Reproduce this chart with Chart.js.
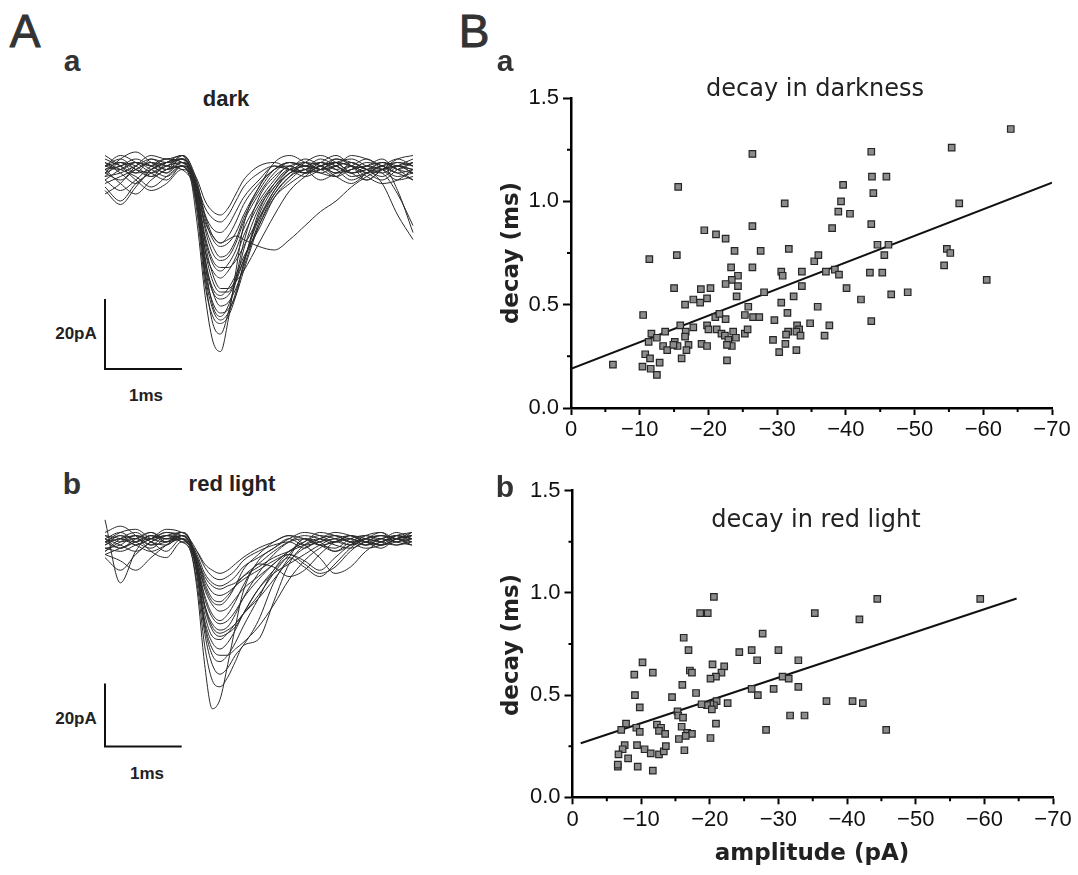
<!DOCTYPE html>
<html><head><meta charset="utf-8">
<script src="https://cdn.jsdelivr.net/npm/chart.js@4"></script>
<style>
body{margin:0;background:#fff;width:1078px;height:875px;position:relative;overflow:hidden;font-family:"Liberation Sans",Arial,sans-serif;color:#222}
canvas{position:absolute}
.t{position:absolute;white-space:nowrap;line-height:1;transform:translate(-50%,-50%)}
.big{font-size:46px;color:#333;-webkit-text-stroke:1px #333}
.sub{font-size:30px;font-weight:bold;color:#333}
.lab{font-size:22px;font-weight:bold}
.bar{font-size:17px;font-weight:bold}
.dj{font-family:"DejaVu Sans",sans-serif;font-size:24px;color:#222}
.ax{font-family:"DejaVu Sans",sans-serif;font-size:23px;font-weight:bold;color:#222}
</style></head><body>
<canvas id="aa" width="320" height="240" style="left:100px;top:140px"></canvas>
<canvas id="ab" width="320" height="250" style="left:100px;top:505px"></canvas>
<canvas id="ba" width="638" height="400" style="left:440px;top:60px"></canvas>
<canvas id="bb" width="638" height="400" style="left:440px;top:450px"></canvas>

<div class="t big" style="left:25px;top:31px">A</div>
<div class="t sub" style="left:72px;top:61px">a</div>
<div class="t lab" style="left:226px;top:99px">dark</div>
<div class="t bar" style="left:76px;top:333px">20pA</div>
<div class="t bar" style="left:146px;top:395px">1ms</div>
<div class="t sub" style="left:72px;top:484px">b</div>
<div class="t lab" style="left:232px;top:484px">red light</div>
<div class="t bar" style="left:76px;top:718px">20pA</div>
<div class="t bar" style="left:147px;top:773px">1ms</div>

<div class="t big" style="left:474px;top:31px">B</div>
<div class="t sub" style="left:505px;top:61px">a</div>
<div class="t dj" style="left:815px;top:88px">decay in darkness</div>
<div class="t ax" style="left:510px;top:253px;transform:translate(-50%,-50%) rotate(-90deg)">decay (ms)</div>
<div class="t sub" style="left:505px;top:487px">b</div>
<div class="t dj" style="left:816px;top:519px">decay in red light</div>
<div class="t ax" style="left:510px;top:645px;transform:translate(-50%,-50%) rotate(-90deg)">decay (ms)</div>
<div class="t ax" style="left:812px;top:852px">amplitude (pA)</div>

<script>
// ---- Panel A: sample times (ms) shared by all traces ----
const traceTime = [0, 0.2, 0.4, 0.6, 0.8, 1.0, 1.1, 1.2, 1.3, 1.4, 1.5, 1.6, 1.7, 1.8, 2.0, 2.2, 2.4, 2.6, 2.8, 3.0, 3.2, 3.4, 3.6, 3.8, 4.0];

// currents (pA) of the traces recorded in the dark
const darkTraces = [
  [2, 1, 3, 2, 4, 3, 0, -15, -35, -48, -51, -42, -28, -15, -4, 1, 2, 0, 3, 1, 2, 0, 1, 3, 2],
  [-1, 3, 0, 4, 2, 5, 2, -10, -30, -43, -46, -40, -30, -20, -7, -1, 2, 3, 1, 4, 2, -2, 1, 2, 0],
  [3, 0, -3, 1, 3, 4, 1, -12, -32, -41, -43, -41, -35, -26, -11, -3, 1, 0, 2, 3, 0, 2, 4, 1, 3],
  [-4, -8, -3, 0, 2, 3, 0, -8, -26, -38, -41, -38, -31, -22, -10, -4, 0, 2, 1, -1, 3, 1, 0, -6, -15],
  [1, 2, 4, 2, 0, 5, 3, -6, -24, -34, -38, -37, -33, -27, -14, -5, 0, 1, 3, 2, 0, 1, 3, 2, 1],
  [0, -2, 1, 3, 1, 2, -1, -10, -25, -33, -35, -33, -29, -24, -16, -7, -2, 1, 0, 2, 3, 1, -1, 2, 4],
  [2, 4, 1, -1, 3, 4, 2, -5, -20, -29, -33, -33, -31, -28, -20, -12, -5, -1, 2, 0, 1, 3, 2, 0, 1],
  [-2, 1, 3, 2, 0, 3, 1, -8, -22, -28, -30, -28, -24, -18, -9, -3, 1, 2, 3, 1, -2, 0, 2, 4, 2],
  [3, 1, -1, -4, -1, 2, 0, -7, -19, -26, -28, -26, -22, -16, -8, -2, 2, 0, 1, 3, 2, 1, -3, -12, -19],
  [-1, 0, 2, 4, 3, 4, 2, -4, -16, -23, -25, -24, -20, -14, -6, 0, 3, 2, 0, -1, 1, 2, 3, 1, 0],
  [1, -3, -6, -2, 1, 2, 1, -5, -14, -18, -20, -19, -18, -19, -21, -22, -19, -15, -11, -8, -4, -1, 1, 2, 0],
  [2, 3, 1, 0, 2, 4, 1, -3, -12, -18, -20, -18, -14, -9, -3, 1, 3, 2, 4, 2, 0, 1, 2, 3, 2],
  [-3, -1, 1, 3, 2, 1, -1, -5, -12, -16, -17, -15, -11, -7, -2, 2, 1, 0, 2, 3, 2, 0, -2, 1, 3],
  [0, 2, 3, 1, -1, 2, 0, -4, -10, -13, -14, -12, -8, -4, 0, 2, 1, 3, 2, 0, 1, 2, 1, -1, 0],
  [4, 2, 0, 1, 3, 5, 2, -2, -8, -11, -12, -10, -6, -2, 2, 3, 1, -1, 1, 3, 4, 2, 1, 2, 3],
  [-2, -5, -2, 2, 4, 3, 1, -9, -26, -34, -36, -35, -31, -25, -13, -5, 0, 2, 1, 2, -1, 0, 2, -5, -17],
  [1, 3, 2, -1, 1, 4, 2, -9, -28, -37, -40, -39, -35, -28, -15, -6, -1, 1, 2, 4, 3, 1, 0, 2, 1],
  [-5, -9, -4, 1, 3, 2, 0, -5, -15, -21, -24, -23, -19, -13, -5, 1, 3, 1, -2, 0, 2, 4, 1, -2, -1],
  [0, 4, 6, 3, 1, 3, 2, -6, -22, -31, -34, -34, -30, -25, -15, -7, -3, 0, 3, 5, 2, -1, -3, -2, 1],
  [-6, -3, 2, 5, 4, 5, 3, -3, -13, -19, -21, -20, -17, -12, -4, 3, 5, 3, 1, 2, 5, 4, 2, 0, -2],
  [5, 2, -2, -5, -3, 1, 0, -6, -18, -25, -27, -27, -25, -21, -13, -6, -1, 3, 5, 3, 0, -2, 1, 4, 5],
  [2, 5, 3, 0, -2, 2, 1, -10, -29, -39, -42, -40, -34, -26, -12, -4, 1, 4, 2, -1, -3, 0, 3, 1, -2]
];

// currents (pA) of the traces recorded in red light
const redTraces = [
  [3, 1, 2, 0, 3, 2, 0, -14, -38, -52, -49, -38, -26, -15, -5, -1, 2, 0, 1, 3, 2, 1, 0, 2, 3],
  [-2, 2, 4, 1, 0, 3, 1, -10, -28, -38, -41, -39, -35, -32, -24, -12, -4, 2, 0, -1, 2, 3, 1, 0, 2],
  [8, -12, -2, 3, 1, 4, 2, -8, -26, -35, -37, -35, -31, -26, -17, -8, -3, -5, -8, -4, 0, 2, 1, 3, 2],
  [1, 3, 0, 2, 4, 3, 1, -9, -24, -31, -33, -31, -27, -22, -14, -9, -6, -3, 0, 2, 1, 0, 2, 3, 1],
  [-1, 0, 3, 1, -2, 2, 0, -8, -22, -29, -30, -28, -25, -22, -17, -11, -5, -1, 1, 2, 3, 1, 2, 0, 1],
  [2, 4, 1, -1, 2, 1, -1, -7, -19, -25, -27, -26, -22, -17, -9, -3, 1, 3, 2, 0, -1, 1, 3, 2, 0],
  [-4, -8, -3, 1, 3, 2, 0, -6, -16, -22, -24, -22, -18, -13, -6, -7, -10, -8, -3, 1, 2, 0, 1, 3, 2],
  [1, -1, 2, 4, 2, 3, 1, -5, -14, -19, -21, -20, -17, -14, -10, -6, -2, 1, 3, 2, 0, 2, 4, 1, 3],
  [3, 2, 0, -2, 0, 2, 0, -4, -12, -17, -18, -16, -13, -10, -6, -2, 1, 2, 0, -2, 1, 3, 2, 4, 2],
  [-2, 1, 3, 2, 4, 2, 0, -4, -11, -15, -16, -15, -13, -11, -8, -5, -3, -6, -9, -7, -2, 1, 0, 2, 3],
  [0, 3, 2, 4, 1, 3, 1, -3, -9, -12, -13, -12, -10, -7, -4, -1, 2, 4, 3, 1, 2, 0, 2, 1, 4],
  [2, 0, -2, 1, 3, 4, 2, -2, -7, -10, -11, -10, -8, -5, -2, 0, 1, -1, 2, 3, 1, 2, 3, 2, 1],
  [1, 2, 3, 0, 1, 3, 1, -5, -13, -18, -19, -17, -13, -8, -3, 1, 3, 0, -4, -9, -7, -2, 1, 2, 0],
  [-3, -1, 1, 3, 2, 2, 0, -2, -6, -8, -9, -8, -6, -4, -1, 1, 3, 2, 0, 1, 3, 1, -1, 2, 3],
  [0, 2, 1, 3, 2, 4, 2, -8, -25, -33, -35, -35, -33, -31, -26, -19, -11, -5, -1, 1, 0, 2, 1, 3, 2],
  [2, -1, 1, 2, 3, 1, -1, -12, -32, -43, -45, -42, -37, -32, -30, -18, -6, 0, 2, 1, 3, 2, 0, 1, 2],
  [4, 6, 3, -2, -4, 1, 1, -6, -17, -23, -25, -24, -21, -17, -11, -6, -2, 1, 4, 3, 1, -1, 0, 3, 4],
  [-3, -5, -8, -4, 0, 3, 2, -4, -10, -13, -14, -13, -12, -10, -7, -4, -2, 0, 2, 4, 3, 1, 0, 2, 4],
  [1, 4, 5, 2, 1, 2, 1, -7, -20, -27, -29, -28, -26, -22, -14, -8, -4, -7, -10, -6, -1, 2, 3, 1, 0],
  [-1, -2, 0, 2, 5, 4, 2, -6, -19, -26, -28, -27, -25, -22, -16, -9, -3, 2, 1, -2, 0, 3, 4, 2, 3]
];

// scale bars: 20 pA and 1 ms
const darkBarX = [0, 0, 1];
const darkBarY = [-36, -56, -56];
const redBarX = [0, 0, 1];
const redBarY = [-44, -64, -64];

// ---- Panel B: amplitude (pA) and decay (ms) of each event ----
const darkAmp = [-26.4,-15.6,-31.1,-26.4,-19.4,-21.1,-22.5,-11.4,-15.4,-23.8,-27.6,-31.7,-38.0,-38.9,-39.3,-39.6,-23.3,-26.4,-24.3,-23.4,-22.5,-24.3,-30.6,-30.8,-33.6,-35.4,-36.0,-37.1,-38.4,-33.6,-15.0,-18.9,-20.3,-24.1,-17.8,-18.8,-19.8,-16.6,-28.1,-32.4,-30.6,-25.8,-35.9,-31.5,-10.5,-25.3,-26.5,-27.4,-21.0,-21.6,-22.5,-29.6,-34.8,-37.6,-15.9,-17.8,-19.8,-20.0,-16.7,-16.6,-13.7,-11.7,-12.5,-11.3,-32.9,-33.2,-32.8,-33.4,-31.6,-31.3,-36.9,-21.2,-21.9,-22.4,-23.6,-24.0,-22.9,-23.4,-22.7,-25.3,-25.7,-29.4,-31.2,-30.3,-32.8,-13.4,-14.0,-15.1,-15.5,-14.9,-17.1,-16.8,-19.0,-19.8,-16.1,-10.8,-11.5,-12.9,-10.4,-11.6,-12.5,-22.7,-6.1,-64.0,-55.4,-43.7,-43.8,-45.9,-44.0,-40.6,-56.5,-43.7,-44.6,-46.2,-45.6,-39.0,-43.5,-45.3,-54.7,-55.2,-54.3,-60.5,-40.1,-42.2,-46.6,-49.0,-43.7];
const darkDecay = [1.23,1.07,0.99,0.88,0.86,0.84,0.82,0.72,0.74,0.76,0.76,0.77,0.87,0.95,1.00,1.08,0.68,0.68,0.64,0.62,0.60,0.59,0.66,0.64,0.66,0.71,0.74,0.66,0.67,0.59,0.58,0.575,0.58,0.54,0.525,0.51,0.53,0.50,0.56,0.54,0.51,0.49,0.49,0.46,0.45,0.45,0.44,0.44,0.44,0.455,0.43,0.425,0.41,0.40,0.40,0.39,0.40,0.38,0.37,0.345,0.37,0.36,0.34,0.32,0.40,0.38,0.37,0.35,0.37,0.355,0.35,0.38,0.36,0.35,0.37,0.34,0.33,0.30,0.305,0.36,0.38,0.33,0.31,0.27,0.28,0.30,0.28,0.32,0.30,0.305,0.305,0.28,0.31,0.30,0.24,0.26,0.24,0.22,0.20,0.19,0.16,0.23,0.21,1.35,1.26,1.24,1.12,1.12,1.04,0.94,0.99,0.89,0.79,0.79,0.74,0.645,0.655,0.655,0.77,0.75,0.69,0.62,0.58,0.525,0.55,0.56,0.42];
const darkFitAmp = [0, -70];
const darkFitDecay = [0.19, 1.09];

const redAmp = [-20.6,-18.6,-19.7,-35.3,-16.2,-27.7,-16.9,-24.3,-26.1,-26.9,-30.0,-32.9,-20.4,-10.2,-9.0,-11.7,-17.1,-17.4,-22.1,-21.7,-20.9,-20.1,-30.6,-31.5,-16.0,-18.0,-26.1,-27.0,-29.3,-32.9,-9.1,-14.5,-44.4,-41.8,-59.4,-37.0,-9.8,-22.6,-21.0,-20.6,-20.1,-19.6,-18.8,-20.3,-15.3,-15.4,-16.1,-31.7,-33.8,-20.9,-7.8,-7.1,-9.3,-9.8,-12.3,-12.9,-12.6,-13.5,-15.9,-16.7,-17.4,-16.5,-15.5,-28.2,-20.1,-16.3,-7.6,-7.3,-6.7,-9.4,-10.5,-11.4,-12.6,-13.3,-13.6,-8.1,-9.5,-6.6,-6.6,-11.7,-40.8,-42.3,-45.7];
const redDecay = [0.98,0.90,0.90,0.90,0.78,0.80,0.72,0.71,0.72,0.67,0.72,0.67,0.65,0.66,0.60,0.61,0.62,0.61,0.64,0.61,0.59,0.58,0.59,0.58,0.55,0.51,0.53,0.50,0.53,0.54,0.50,0.49,0.97,0.87,0.97,0.47,0.44,0.46,0.47,0.45,0.455,0.45,0.455,0.43,0.42,0.40,0.39,0.40,0.40,0.36,0.36,0.33,0.34,0.32,0.355,0.34,0.325,0.31,0.345,0.315,0.31,0.30,0.285,0.33,0.29,0.23,0.255,0.235,0.21,0.255,0.235,0.215,0.21,0.225,0.25,0.19,0.15,0.15,0.16,0.13,0.47,0.46,0.33];
const redFitAmp = [-1.2, -64.7];
const redFitDecay = [0.264, 0.972];

// axis ticks
const decayMajor = [0, 0.5, 1.0, 1.5];
const decayMinor = [0.25, 0.75, 1.25];
const ampMinor = [-5, -15, -25, -35, -45, -55, -65];

Chart.defaults.animation = false;
Chart.defaults.responsive = false;
Chart.defaults.devicePixelRatio = 1;
Chart.defaults.plugins.legend.display = false;
Chart.defaults.plugins.tooltip.enabled = false;

const zip = (xs, ys) => xs.map((x, i) => ({x, y: ys[i]}));

function traceChart(id, traces, barX, barY, yMin, yMax, pad) {
  const datasets = traces.map(tr => ({
    type: 'line', data: zip(traceTime, tr), borderColor: '#2a2a2a', borderWidth: 1,
    pointRadius: 0, cubicInterpolationMode: 'monotone', fill: false, clip: false
  }));
  datasets.push({type: 'line', data: zip(barX, barY), borderColor: '#111', borderWidth: 2,
    pointRadius: 0, tension: 0, fill: false, clip: false});
  new Chart(document.getElementById(id), {
    type: 'line',
    data: {datasets},
    options: {
      parsing: false,
      layout: {padding: pad},
      scales: {
        x: {type: 'linear', min: 0, max: 4, display: false},
        y: {type: 'linear', min: yMin, max: yMax, display: false}
      }
    }
  });
}
traceChart('aa', darkTraces, darkBarX, darkBarY, -57, 8, {left: 5, right: 7, top: 5, bottom: 7.5});
traceChart('ab', redTraces, redBarX, redBarY, -65, 11, {left: 5, right: 8.3, top: 5.4, bottom: 5.25});

const minorTicks = {
  id: 'minorTicks',
  afterDraw(chart) {
    const ctx = chart.ctx, xs = chart.scales.x, ys = chart.scales.y;
    ctx.save();
    ctx.strokeStyle = '#000';
    ctx.lineWidth = 2;
    ctx.beginPath();
    decayMinor.forEach(v => { const p = ys.getPixelForValue(v); ctx.moveTo(ys.right, p); ctx.lineTo(ys.right - 4, p); });
    ampMinor.forEach(v => { const p = xs.getPixelForValue(v); ctx.moveTo(p, xs.top); ctx.lineTo(p, xs.top + 4); });
    ctx.stroke();
    ctx.restore();
  }
};

const tickFont = {family: '"Liberation Sans", Arial, sans-serif', size: 22};

function scatterChart(id, amp, decay, fitAmp, fitDecay, yW, xH, pad) {
  new Chart(document.getElementById(id), {
    type: 'scatter',
    data: {datasets: [
      {type: 'scatter', data: zip(amp, decay), pointStyle: 'rect', pointRadius: 4.6,
       backgroundColor: '#8c8c8c', borderColor: '#262626', borderWidth: 1.2},
      {type: 'line', data: zip(fitAmp, fitDecay), borderColor: '#111', borderWidth: 2,
       pointRadius: 0, tension: 0, fill: false}
    ]},
    options: {
      parsing: false,
      layout: {padding: pad},
      scales: {
        x: {type: 'linear', reverse: true, min: -70, max: 0,
            afterFit: s => { s.height = xH; },
            border: {display: true, color: '#000', width: 2.5},
            grid: {drawOnChartArea: false, drawTicks: true, tickLength: 7, tickColor: '#000', tickWidth: 2},
            ticks: {stepSize: 10, color: '#111', font: tickFont, padding: 2, maxRotation: 0,
                    callback: v => v === 0 ? '0' : '\u2212' + Math.abs(v)}},
        y: {type: 'linear', min: 0, max: 1.5,
            afterFit: s => { s.width = yW; },
            border: {display: true, color: '#000', width: 2.5},
            grid: {drawOnChartArea: false, drawTicks: true, tickLength: 8, tickColor: '#000', tickWidth: 2},
            afterBuildTicks: s => { s.ticks = decayMajor.map(v => ({value: v})); },
            ticks: {color: '#111', font: tickFont, padding: 4,
                    callback: v => v.toFixed(1)}}
      }
    },
    plugins: [minorTicks]
  });
}
scatterChart('ba', darkAmp, darkDecay, darkFitAmp, darkFitDecay, 131, 52, {left: 0, right: 26, top: 38, bottom: 0});
scatterChart('bb', redAmp, redDecay, redFitAmp, redFitDecay, 132.5, 52.7, {left: 0, right: 25, top: 40.5, bottom: 0});
</script>
</body></html>
